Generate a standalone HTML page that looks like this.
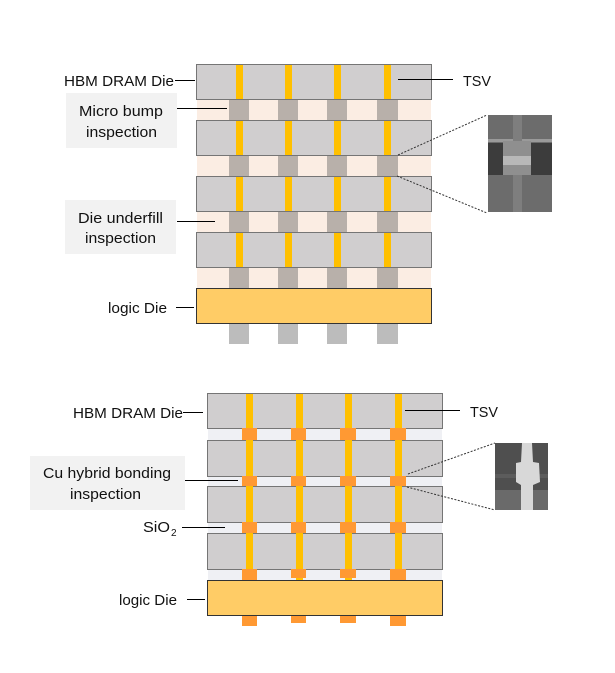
<!DOCTYPE html>
<html><head><meta charset="utf-8"><style>
html,body{margin:0;padding:0;background:#fff;}
svg{display:block;}
text{font-family:"Liberation Sans",sans-serif;font-size:15px;fill:#111;}
</style></head><body>
<svg width="615" height="673" viewBox="0 0 615 673" xmlns="http://www.w3.org/2000/svg">
<g>
<rect x="197" y="99" width="234" height="21" fill="#fbede3"/>
<rect x="197" y="155" width="234" height="21" fill="#fbede3"/>
<rect x="197" y="211" width="234" height="21" fill="#fbede3"/>
<rect x="197" y="267" width="234" height="21" fill="#fbede3"/>
<g fill="#b8b0aa">
<rect x="229" y="99" width="20" height="21"/><rect x="278" y="99" width="20" height="21"/><rect x="327" y="99" width="20" height="21"/><rect x="377" y="99" width="21" height="21"/>
<rect x="229" y="155" width="20" height="21"/><rect x="278" y="155" width="20" height="21"/><rect x="327" y="155" width="20" height="21"/><rect x="377" y="155" width="21" height="21"/>
<rect x="229" y="211" width="20" height="21"/><rect x="278" y="211" width="20" height="21"/><rect x="327" y="211" width="20" height="21"/><rect x="377" y="211" width="21" height="21"/>
<rect x="229" y="267" width="20" height="21"/><rect x="278" y="267" width="20" height="21"/><rect x="327" y="267" width="20" height="21"/><rect x="377" y="267" width="21" height="21"/>
</g>
<g fill="#bcbcbc">
<rect x="229" y="323" width="20" height="21"/><rect x="278" y="323" width="20" height="21"/><rect x="327" y="323" width="20" height="21"/><rect x="377" y="323" width="21" height="21"/>
</g>
<g fill="#d0cecf" stroke="#757575" stroke-width="1">
<rect x="196.5" y="64.5" width="235" height="35"/>
<rect x="196.5" y="120.5" width="235" height="35"/>
<rect x="196.5" y="176.5" width="235" height="35"/>
<rect x="196.5" y="232.5" width="235" height="35"/>
</g>
<g fill="#ffc000">
<rect x="236" y="65" width="7" height="34"/><rect x="285" y="65" width="7" height="34"/><rect x="334" y="65" width="7" height="34"/><rect x="384" y="65" width="7" height="34"/>
<rect x="236" y="121" width="7" height="34"/><rect x="285" y="121" width="7" height="34"/><rect x="334" y="121" width="7" height="34"/><rect x="384" y="121" width="7" height="34"/>
<rect x="236" y="177" width="7" height="34"/><rect x="285" y="177" width="7" height="34"/><rect x="334" y="177" width="7" height="34"/><rect x="384" y="177" width="7" height="34"/>
<rect x="236" y="233" width="7" height="34"/><rect x="285" y="233" width="7" height="34"/><rect x="334" y="233" width="7" height="34"/><rect x="384" y="233" width="7" height="34"/>
</g>
<rect x="196.5" y="288.5" width="235" height="35" fill="#ffcc66" stroke="#333" stroke-width="1"/>
<rect x="66" y="93" width="111" height="55" fill="#f2f2f2"/>
<rect x="65" y="200" width="111" height="54" fill="#f2f2f2"/>
<text x="64" y="86" textLength="110" lengthAdjust="spacingAndGlyphs">HBM DRAM Die</text>
<line x1="175" y1="80.5" x2="195" y2="80.5" stroke="#000"/>
<text x="79" y="116" textLength="84" lengthAdjust="spacingAndGlyphs">Micro bump</text>
<text x="86" y="137" textLength="71" lengthAdjust="spacingAndGlyphs">inspection</text>
<line x1="177" y1="108.5" x2="227" y2="108.5" stroke="#000"/>
<text x="78" y="223" textLength="85" lengthAdjust="spacingAndGlyphs">Die underfill</text>
<text x="85" y="243" textLength="71" lengthAdjust="spacingAndGlyphs">inspection</text>
<line x1="177" y1="221.5" x2="215" y2="221.5" stroke="#000"/>
<text x="108" y="313" textLength="59" lengthAdjust="spacingAndGlyphs">logic Die</text>
<line x1="176" y1="307.5" x2="194" y2="307.5" stroke="#000"/>
<line x1="398" y1="79.5" x2="453" y2="79.5" stroke="#000"/>
<text x="463" y="86" textLength="28" lengthAdjust="spacingAndGlyphs">TSV</text>
<line x1="398" y1="155" x2="487" y2="115" stroke="#333" stroke-dasharray="2,1.5"/>
<line x1="397" y1="176" x2="487" y2="213" stroke="#333" stroke-dasharray="2,1.5"/>
<rect x="488" y="115" width="64" height="97" fill="#6c6c6c"/>
<rect x="488" y="143" width="64" height="32" fill="#3c3c3c"/>
<rect x="488" y="139" width="64" height="3" fill="#9a9a9a"/>
<rect x="513" y="115" width="9" height="97" fill="#7e7e7e"/>
<rect x="503" y="141" width="28" height="34" fill="#8f8f8f"/>
<rect x="503" y="156" width="28" height="9" fill="#b8b8b8"/>
</g>

<g>
<rect x="208" y="428" width="234" height="12" fill="#eff0f4"/>
<rect x="208" y="476" width="234" height="10" fill="#eff0f4"/>
<rect x="208" y="522" width="234" height="11" fill="#eff0f4"/>
<rect x="208" y="569" width="234" height="11" fill="#eff0f4"/>
<g fill="#d0cecf" stroke="#757575" stroke-width="1">
<rect x="207.5" y="393.5" width="235" height="35"/>
<rect x="207.5" y="440.5" width="235" height="36"/>
<rect x="207.5" y="486.5" width="235" height="36"/>
<rect x="207.5" y="533.5" width="235" height="36"/>
</g>
<g fill="#ffc000">
<rect x="246" y="394" width="7" height="186"/><rect x="296" y="394" width="7" height="186"/><rect x="345" y="394" width="7" height="186"/><rect x="395" y="394" width="7" height="186"/>
</g>
<g fill="#ff9933">
<rect x="242" y="428" width="15" height="12"/><rect x="291" y="428" width="15" height="12"/><rect x="340" y="428" width="16" height="12"/><rect x="390" y="428" width="16" height="12"/>
<rect x="242" y="476" width="15" height="10"/><rect x="291" y="476" width="15" height="10"/><rect x="340" y="476" width="16" height="10"/><rect x="390" y="476" width="16" height="10"/>
<rect x="242" y="522" width="15" height="11"/><rect x="291" y="522" width="15" height="11"/><rect x="340" y="522" width="16" height="11"/><rect x="390" y="522" width="16" height="11"/>
<rect x="242" y="569" width="15" height="11"/><rect x="291" y="569" width="15" height="9"/><rect x="340" y="569" width="16" height="9"/><rect x="390" y="569" width="16" height="11"/>
<rect x="242" y="616" width="15" height="10"/><rect x="291" y="616" width="15" height="7"/><rect x="340" y="616" width="16" height="7"/><rect x="390" y="616" width="16" height="10"/>
</g>
<rect x="207.5" y="580.5" width="235" height="35" fill="#ffcc66" stroke="#333" stroke-width="1"/>
<text x="73" y="418" textLength="110" lengthAdjust="spacingAndGlyphs">HBM DRAM Die</text>
<line x1="183" y1="412.5" x2="203" y2="412.5" stroke="#000"/>
<line x1="405" y1="410.5" x2="460" y2="410.5" stroke="#000"/>
<text x="470" y="417" textLength="28" lengthAdjust="spacingAndGlyphs">TSV</text>
<rect x="30" y="456" width="155" height="54" fill="#f2f2f2"/>
<text x="43" y="478" textLength="128" lengthAdjust="spacingAndGlyphs">Cu hybrid bonding</text>
<text x="70" y="499" textLength="71" lengthAdjust="spacingAndGlyphs">inspection</text>
<line x1="185" y1="480.5" x2="238" y2="480.5" stroke="#000"/>
<text x="143" y="532" textLength="27" lengthAdjust="spacingAndGlyphs">SiO</text>
<text x="171" y="536" style="font-size:10px">2</text>
<line x1="182" y1="527.5" x2="225" y2="527.5" stroke="#000"/>
<text x="119" y="605" textLength="58" lengthAdjust="spacingAndGlyphs">logic Die</text>
<line x1="187" y1="599.5" x2="205" y2="599.5" stroke="#000"/>
<line x1="408" y1="474" x2="495" y2="443" stroke="#333" stroke-dasharray="2,1.5"/>
<line x1="407" y1="487" x2="495" y2="510" stroke="#333" stroke-dasharray="2,1.5"/>
<rect x="495" y="443" width="53" height="67" fill="#4f4f4f"/>
<rect x="495" y="490" width="53" height="20" fill="#6a6a6a"/>
<rect x="495" y="474" width="53" height="4" fill="#5c5c5c"/>
<polygon points="522,443 532,443 533,462 539,463 540,482 533,485 533,510 521,510 521,485 516,482 516,463 521,462" fill="#d8d8d8"/>
</g>
</svg>
</body></html>
